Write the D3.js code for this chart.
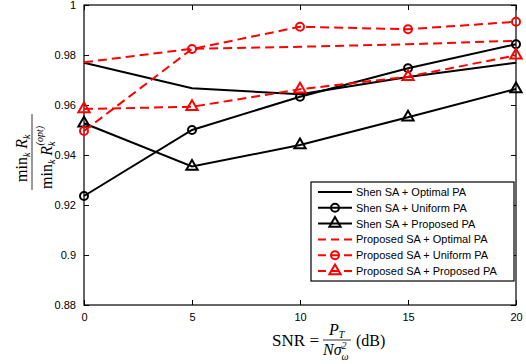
<!DOCTYPE html>
<html>
<head>
<meta charset="utf-8">
<script src="https://cdn.jsdelivr.net/npm/d3@7"></script>
<style>
  body { margin: 0; background: #fff; }
  svg { display: block; }
  text { font-family: "Liberation Sans", Arial, sans-serif; }
  .math { font-family: "Liberation Serif", "DejaVu Serif", serif; }
</style>
</head>
<body>
<svg id="svg" width="526" height="364"></svg>
<script>
const snr = [0, 5, 10, 15, 20];
const shenOptimal = [0.9769, 0.9667, 0.9643, 0.9712, 0.9769];
const shenUniform = [0.9236, 0.9500, 0.9633, 0.9747, 0.9843];
const shenProposed = [0.9527, 0.9354, 0.9440, 0.9551, 0.9664];
const propOptimal = [0.9771, 0.9825, 0.9833, 0.9843, 0.9857];
const propUniform = [0.9496, 0.9824, 0.9913, 0.9903, 0.9933];
const propProposed = [0.9584, 0.9593, 0.9663, 0.9713, 0.9799];
const xTicks = [0, 5, 10, 15, 20];
const yTicks = [0.88, 0.9, 0.92, 0.94, 0.96, 0.98, 1];

const series = [
  { name: 'Shen SA + Optimal PA', values: shenOptimal, color: '#000', dash: null, marker: null },
  { name: 'Shen SA + Uniform PA', values: shenUniform, color: '#000', dash: null, marker: 'circle' },
  { name: 'Shen SA + Proposed PA', values: shenProposed, color: '#000', dash: null, marker: 'triangle' },
  { name: 'Proposed SA + Optimal PA', values: propOptimal, color: '#ff0000', dash: '9,5', marker: null },
  { name: 'Proposed SA + Uniform PA', values: propUniform, color: '#ff0000', dash: '9,5', marker: 'circle' },
  { name: 'Proposed SA + Proposed PA', values: propProposed, color: '#ff0000', dash: '9,5', marker: 'triangle' }
];

const svg = d3.select('#svg');
const pLeft = 84, pRight = 516, pTop = 5, pBottom = 305;
const x = d3.scaleLinear().domain([0, 20]).range([pLeft, pRight]);
const y = d3.scaleLinear().domain([0.88, 1]).range([pBottom, pTop]);

// axes (ticks pointing inward, mirrored on top/right)
const tickFmt = d => d3.format('')(+d.toFixed(2));
svg.append('g').attr('transform', `translate(0,${pBottom})`)
  .call(d3.axisBottom(x).tickValues(xTicks).tickSizeInner(-5).tickSizeOuter(0).tickPadding(8).tickFormat(tickFmt));
svg.append('g').attr('transform', `translate(0,${pTop})`)
  .call(d3.axisTop(x).tickValues(xTicks).tickSizeInner(-5).tickSizeOuter(0).tickFormat(''));
svg.append('g').attr('transform', `translate(${pLeft},0)`)
  .call(d3.axisLeft(y).tickValues(yTicks).tickSizeInner(-5).tickSizeOuter(0).tickPadding(8).tickFormat(tickFmt));
svg.append('g').attr('transform', `translate(${pRight},0)`)
  .call(d3.axisRight(y).tickValues(yTicks).tickSizeInner(-5).tickSizeOuter(0).tickFormat(''));
svg.selectAll('.domain').remove();
svg.selectAll('.tick line').attr('stroke', '#000');
svg.selectAll('.tick text').attr('font-size', 11).attr('fill', '#000')
  .attr('font-family', '"Liberation Sans", Arial, sans-serif');
svg.append('rect').attr('x', pLeft).attr('y', pTop).attr('width', pRight - pLeft).attr('height', pBottom - pTop)
  .attr('fill', 'none').attr('stroke', '#000').attr('stroke-width', 1.2);

const tri = d3.symbol().type(d3.symbolTriangle).size(55);

function drawMarker(g, type, color, px, py) {
  if (type === 'circle') {
    g.append('circle').attr('cx', px).attr('cy', py).attr('r', 4)
      .attr('fill', 'none').attr('stroke', color).attr('stroke-width', 2);
  } else if (type === 'triangle') {
    g.append('path').attr('d', tri()).attr('transform', `translate(${px},${py})`)
      .attr('fill', 'none').attr('stroke', color).attr('stroke-width', 2).attr('stroke-linejoin', 'miter');
  }
}

const line = d3.line().x((d, i) => x(snr[i])).y(d => y(d));
const plot = svg.append('g');
series.forEach(s => {
  plot.append('path').attr('d', line(s.values)).attr('fill', 'none')
    .attr('stroke', s.color).attr('stroke-width', 2)
    .attr('stroke-dasharray', s.dash);
  if (s.marker) s.values.forEach((v, i) => drawMarker(plot, s.marker, s.color, x(snr[i]), y(v)));
});

// legend
const lg = svg.append('g');
lg.append('rect').attr('x', 311).attr('y', 182).attr('width', 203).attr('height', 99)
  .attr('fill', '#fff').attr('stroke', '#000').attr('stroke-width', 1.2);
series.forEach((s, i) => {
  const ly = 192 + i * 15.8;
  lg.append('line').attr('x1', 318).attr('x2', 352).attr('y1', ly).attr('y2', ly)
    .attr('stroke', s.color).attr('stroke-width', 2).attr('stroke-dasharray', s.dash ? '8,5' : null);
  if (s.marker) drawMarker(lg, s.marker, s.color, 335, ly);
  lg.append('text').attr('x', 356).attr('y', ly + 4).attr('font-size', 11).attr('fill', '#000').text(s.name);
});

// x label: SNR = P_T / (N sigma_omega^2) (dB)
const xl = svg.append('g').attr('font-size', 16);
xl.append('text').attr('class', 'math').attr('x', 319).attr('y', 346).attr('font-size', 17)
  .attr('text-anchor', 'end').text('SNR =');
xl.append('line').attr('x1', 323).attr('x2', 351).attr('y1', 340).attr('y2', 340).attr('stroke', '#000').attr('stroke-width', 0.8);
const num = xl.append('text').attr('class', 'math').attr('x', 329).attr('y', 335).attr('font-style', 'italic');
num.append('tspan').text('P');
num.append('tspan').attr('font-size', 10).attr('dy', 3).text('T');
const den = xl.append('text').attr('class', 'math').attr('x', 323).attr('y', 355).attr('font-style', 'italic');
den.append('tspan').text('Nσ');
den.append('tspan').attr('font-size', 10).attr('dy', -6).text('2');
den.append('tspan').attr('font-size', 10).attr('dx', -5).attr('dy', 11).text('ω');
xl.append('text').attr('class', 'math').attr('x', 356).attr('y', 346).text('(dB)');

// y label: min_k R_k / min_k R_k^(opt)
const yl = svg.append('g').attr('transform', 'translate(32,152) rotate(-90)').attr('font-size', 16);
yl.append('line').attr('x1', -38).attr('x2', 38).attr('y1', 0).attr('y2', 0).attr('stroke', '#000').attr('stroke-width', 0.8);
const yn = yl.append('text').attr('class', 'math').attr('x', -30).attr('y', -5);
yn.append('tspan').text('min');
yn.append('tspan').attr('font-size', 10).attr('font-style', 'italic').attr('dy', 3).text('k');
yn.append('tspan').attr('font-style', 'italic').attr('dx', 4).attr('dy', -3).text('R');
yn.append('tspan').attr('font-size', 10).attr('font-style', 'italic').attr('dy', 3).text('k');
const yd = yl.append('text').attr('class', 'math').attr('x', -37).attr('y', 20);
yd.append('tspan').text('min');
yd.append('tspan').attr('font-size', 10).attr('font-style', 'italic').attr('dy', 3).text('k');
yd.append('tspan').attr('font-style', 'italic').attr('dx', 4).attr('dy', -3).text('R');
yd.append('tspan').attr('font-size', 10).attr('font-style', 'italic').attr('dy', 3).text('k');
yd.append('tspan').attr('font-size', 10).attr('font-style', 'italic').attr('dx', -4).attr('dy', -12).text('(opt)');
</script>
</body>
</html>
